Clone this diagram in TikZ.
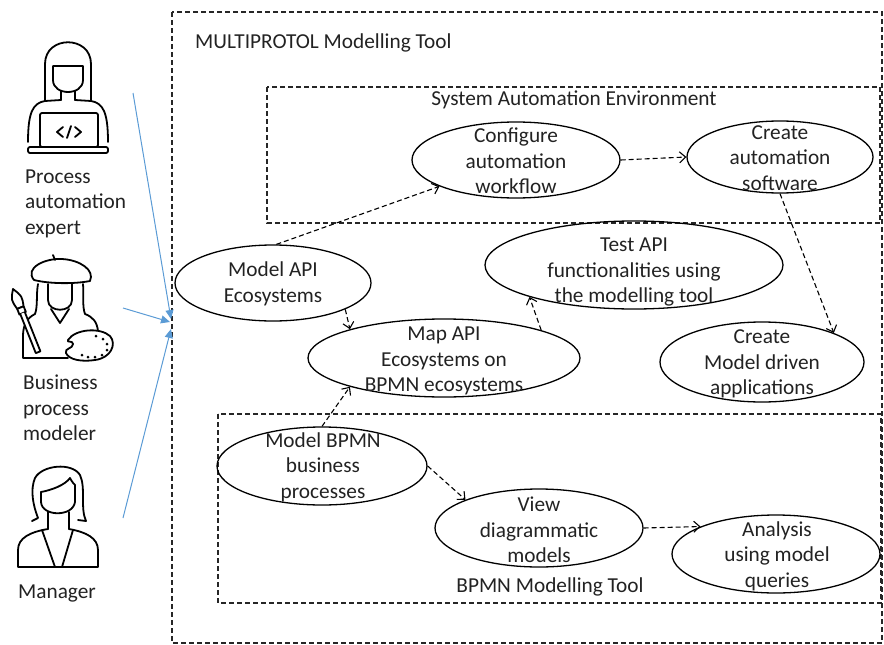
\documentclass[tikz,border=0pt]{standalone}
\usepackage{fontspec}
\setmainfont{Carlito}
\usetikzlibrary{shapes.geometric,arrows.meta}

\definecolor{actorblue}{HTML}{5B9BD5}
\definecolor{inkgray}{HTML}{222222}

\begin{document}
\begin{tikzpicture}[x=1pt,y=-1pt,
  txt/.style={font=\fontsize{21.3}{25.5}\selectfont, text=inkgray, align=center, inner sep=0pt},
  actortxt/.style={font=\fontsize{21.3}{25.5}\selectfont, text=inkgray, align=left, inner sep=0pt, anchor=west},
  usecase/.style={draw, ellipse, line width=1.3pt, inner sep=0pt},
  frame/.style={draw=black!85, line width=1.1pt, dash pattern=on 5pt off 3pt},
  flow/.style={draw, line width=1.1pt, dash pattern=on 5pt off 3pt,
    -{Straight Barb[length=6pt,width=11pt,line width=1.1pt]}},
  assoc/.style={draw=actorblue, line width=1pt, -{Triangle[length=9pt,width=8pt]}},
  icon/.style={line width=1.8pt, line join=round, line cap=round}
]
\useasboundingbox (0,0) rectangle (884,645);

% ---------- frames ----------
\draw[frame] (172,12) rectangle (882,643);
\draw[frame] (267,87) rectangle (880,223);
\draw[frame] (218,414) rectangle (881,603);
\node[txt, anchor=west] (ttool) at (195,43) {MULTIPROTOL Modelling Tool};
\node[txt] (tsae) at (574,100) {System Automation Environment};
\node[txt] (tbpmn) at (550,587) {BPMN Modelling Tool};

% ---------- use cases ----------
\node[usecase, minimum width=208, minimum height=76] (conf) at (516,160) {};
\node[txt] (conf-t) at (516,161) {Configure\\automation\\workflow};
\node[usecase, minimum width=186, minimum height=72] (cas) at (780,157) {};
\node[txt] (cas-t) at (780,158) {Create\\automation\\software};
\node[usecase, minimum width=196, minimum height=76] (mapi) at (273,283) {};
\node[txt] (mapi-t) at (273,284) {Model API\\Ecosystems};
\node[usecase, minimum width=272, minimum height=78] (map) at (444,358) {};
\node[txt] (map-t) at (444,361) {Map API\\Ecosystems on\\BPMN ecosystems};
\node[usecase, minimum width=298, minimum height=88] (test) at (634,265) {};
\node[txt] (test-t) at (634,272) {Test API\\functionalities using\\the modelling tool};
\node[usecase, minimum width=204, minimum height=80] (cmd) at (762,362) {};
\node[txt] (cmd-t) at (762,364) {Create\\Model driven\\applications};
\node[usecase, minimum width=210, minimum height=78] (mbp) at (322,466) {};
\node[txt] (mbp-t) at (323,467) {Model BPMN\\business\\processes};
\node[usecase, minimum width=208, minimum height=78] (view) at (539,528) {};
\node[txt] (view-t) at (539,530) {View\\diagrammatic\\models};
\node[usecase, minimum width=208, minimum height=78] (ana) at (776,554) {};
\node[txt] (ana-t) at (777,556) {Analysis\\using model\\queries};

% ---------- dependencies ----------
\draw[flow] (mapi.85) -- (conf.199);
\draw[flow] (conf.east) -- (cas.west);
\draw[flow] (cas.south) -- (cmd.22);
\draw[flow] (mapi.-20) -- (map.163);
\draw[flow] (map.16) -- (test.197);
\draw[flow] (mbp.north) -- (map.197);
\draw[flow] (mbp.east) -- (view.159);
\draw[flow] (view.east) -- (ana.160);

% ---------- actors ----------
\node[actortxt] (expert) at (25,203.5) {Process\\automation\\expert};
\node[actortxt] (modeler) at (23,408) {Business\\process\\modeler};
\node[actortxt] (manager) at (18,593) {Manager};

% process automation expert
\begin{scope}[icon]
  \draw (45,101) -- (45,64) .. controls (45,35) and (91,35) .. (91,64) -- (91,101);
  \draw (53,66) -- (83,66) -- (83,80) .. controls (83,96) and (53,96) .. (53,80) -- cycle;
  \draw (61,91) -- (61,100);
  \draw (75,91) -- (75,100);
  \draw (61,100) -- (45,101) .. controls (33,103) and (28,112) .. (28,142);
  \draw (75,100) -- (91,101) .. controls (103,103) and (108,112) .. (108,142);
  \draw[rounded corners=2pt, fill=white] (40,113) rectangle (98,147);
  \draw[rounded corners=2pt] (28,147) rectangle (108,153);
  \draw (63,127) -- (57,132) -- (63,137);
  \draw (75,127) -- (81,132) -- (75,137);
  \draw (71,126) -- (67,138);
\end{scope}

% business process modeler
\begin{scope}[icon]
  \draw (34,280) .. controls (24,268) and (45,258) .. (62,259)
        .. controls (80,260) and (95,270) .. (90,281)
        .. controls (75,284) and (50,284) .. (34,280) -- cycle;
  \draw (55,260) -- (53,255);
  \draw (48,284) -- (48,300) .. controls (48,313) and (72,313) .. (72,300) -- (72,284);
  \draw (38,284) .. controls (36,295) and (38,306) .. (35,314);
  \draw (83,284) .. controls (84,295) and (82,306) .. (85,314);
  \draw (51,309) -- (60,323) -- (69,309);
  \draw (35,314) .. controls (27,318) and (23,325) .. (23,336) -- (23,358) -- (68,358);
  \draw (85,314) .. controls (93,317) and (97,322) .. (98,331);
  % brush
  \draw[fill=white] (13,289) .. controls (22,296) .. (23.6,306.3) -- (17.2,308.9) .. controls (11,300) .. (13,289) -- cycle;
  \draw[fill=white] (23.6,306.3) -- (25.9,311.9) -- (19.4,314.5) -- (17.2,308.9) -- cycle;
  \draw[fill=white] (24.9,312.3) -- (40.4,351.3) -- (35.8,353.1) -- (20.3,314.1);
  % palette
  \draw[fill=white] (68,340) .. controls (75,329) and (100,327) .. (110,336)
        .. controls (117,344) and (111,358) .. (95,360)
        .. controls (82,362) and (69,360) .. (66,353)
        .. controls (64,348) and (73,349) .. (73,344)
        .. controls (73,340) and (66,343) .. (68,340) -- cycle;
  \foreach \p in {(96,336),(103,339),(107,344),(107,350),(102,355),(95,357),(88,357),(82,355)}
    \fill \p circle (1.5pt);
\end{scope}

% manager
\begin{scope}[icon]
  \draw (32,521) -- (38,518) .. controls (33,505) and (30,490) .. (35,478)
        .. controls (42,465) and (72,462) .. (80,475)
        .. controls (86,488) and (80,508) .. (86,521) -- (78,520);
  \draw (41,492) -- (41,502) .. controls (42,517) and (73,517) .. (75,502) -- (75,485);
  \draw (41,492) .. controls (52,490) and (65,485) .. (70,478) .. controls (72,482) and (74,484) .. (75,485);
  \draw (48,512) -- (48,529);
  \draw (69,512) -- (69,529);
  \draw (48,529) .. controls (30,532) and (18,538) .. (18,550) -- (18,567) -- (98,567)
        -- (98,550) .. controls (98,538) and (86,532) .. (69,529);
  \draw (42,530) -- (55,567);
  \draw (73,530) -- (62,567);
\end{scope}

% ---------- associations ----------
\coordinate (e1) at (133,93);
\coordinate (e2) at (123,308);
\coordinate (e3) at (123,518);
\coordinate (h1) at (171,319);
\coordinate (h2) at (170,322);
\coordinate (h3) at (171,329);
\draw[assoc] (e1) -- (h1);
\draw[assoc] (e2) -- (h2);
\draw[assoc] (e3) -- (h3);
\end{tikzpicture}
\end{document}
